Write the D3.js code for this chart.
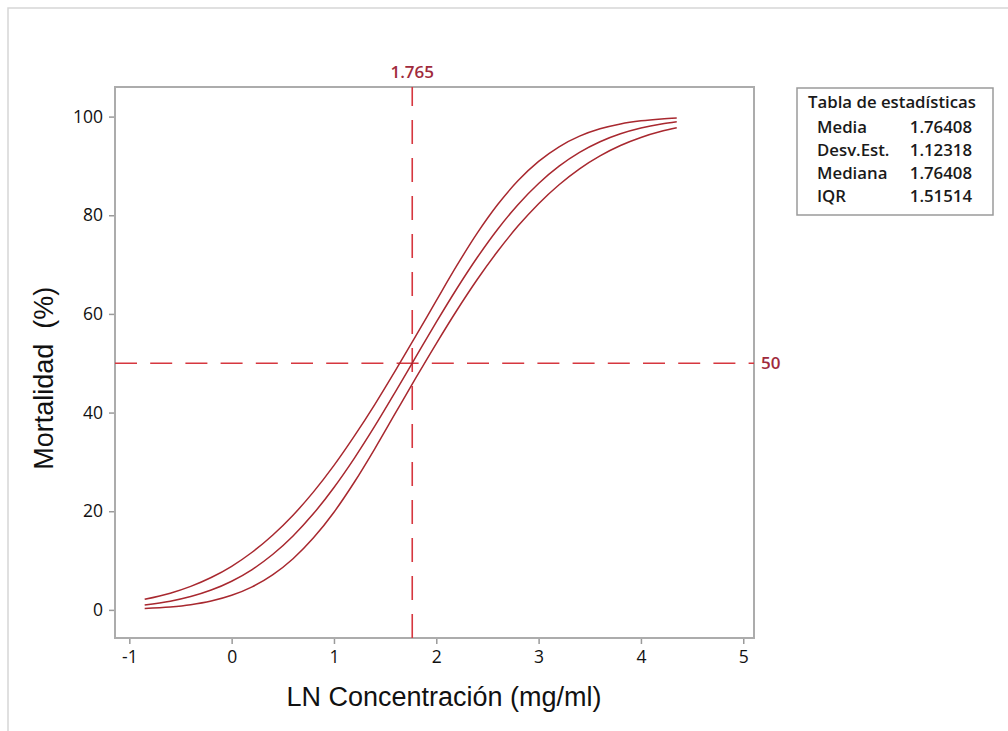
<!DOCTYPE html>
<html>
<head>
<meta charset="utf-8">
<script src="https://cdn.jsdelivr.net/npm/d3@7"></script>
<style>
    body { margin: 0; background: #fff; }
    .tick text { font-family: "Open Sans", sans-serif; font-size: 17.5px; font-weight: 500; fill: #111; }
    .tick line { stroke: #9a9a9a; stroke-width: 1.5; }
    .title { font-family: "Liberation Sans", Arial, sans-serif; font-size: 27px; fill: #111; }
    .stats { font-family: "Open Sans", sans-serif; font-size: 16.8px; font-weight: 600; fill: #1a1a1a; }
</style>
</head>
<body>
<div id="vis"></div>
<script>
// Probit plot: fitted mortality (%) with its confidence band

/* *************************** Data ***************************** */

var lnConc = [-0.85, -0.6, -0.4, -0.2, 0, 0.2, 0.4, 0.6, 0.8, 1.0, 1.2, 1.4, 1.6, 1.8,
    2.0, 2.2, 2.4, 2.6, 2.8, 3.0, 3.2, 3.4, 3.6, 3.8, 4.0, 4.2, 4.35];

// fitted percent
var fitPct = [1.0, 1.76, 2.7, 4.02, 5.81, 8.18, 11.22, 14.99, 19.52, 24.82, 30.78, 37.29, 44.2, 51.28,
    58.32, 65.1, 71.43, 77.17, 82.2, 86.45, 89.95, 92.74, 94.9, 96.51, 97.68, 98.5, 98.94];

// upper confidence limit
var upperPct = [2.15, 3.39, 4.77, 6.56, 8.84, 11.68, 15.13, 19.19, 23.92, 29.29, 35.27, 41.68, 48.5, 55.53,
    62.7, 69.78, 76.37, 82.17, 87.04, 90.92, 93.88, 96.03, 97.52, 98.52, 99.15, 99.53, 99.71];

// lower confidence limit
var lowerPct = [0.3, 0.6, 1.05, 1.79, 2.95, 4.66, 7.09, 10.37, 14.61, 19.8, 25.92, 32.71, 39.88, 47.02,
    53.99, 60.69, 66.97, 72.7, 77.85, 82.35, 86.19, 89.42, 92.04, 94.14, 95.77, 97.01, 97.73];

// reference lines
var refX = 1.765;
var refY = 50;

// ticks
var xTicks = [-1, 0, 1, 2, 3, 4, 5];
var yTicks = [0, 20, 40, 60, 80, 100];

// statistics table
var statNames = ['Media', 'Desv.Est.', 'Mediana', 'IQR'];
var statValues = ['1.76408', '1.12318', '1.76408', '1.51514'];

/* *************************** Settings ***************************** */

var width = 1008;
var height = 731;

var margin = {
    left: 115,
    top: 87,
    right: 254,
    bottom: 93
};

var drawWidth = width - margin.left - margin.right;
var drawHeight = height - margin.top - margin.bottom;

var curveColor = '#a8282f';
var refColor = '#d6373f';
var labelColor = '#a02a3c';

/* *************************** Static elements ***************************** */

var svg = d3.select('#vis')
    .append('svg')
    .attr('width', width)
    .attr('height', height);

// light outer frame
svg.append('rect')
    .attr('x', 8)
    .attr('y', 8)
    .attr('width', width + 20)
    .attr('height', height + 20)
    .attr('fill', 'none')
    .attr('stroke', '#d6d6d6')
    .attr('stroke-width', 1.5);

var g = svg.append('g')
    .attr('transform', 'translate(' + margin.left + ',' + margin.top + ')');

var xScale = d3.scaleLinear()
    .domain([-1.14, 5.105])
    .range([0, drawWidth]);

var yScale = d3.scaleLinear()
    .domain([-5.7, 106])
    .range([drawHeight, 0]);

/* *************************** Axes ***************************** */

var xAxis = d3.axisBottom(xScale)
    .tickValues(xTicks)
    .tickSize(6)
    .tickPadding(7)
    .tickFormat(function(d) { return String(d); });

var yAxis = d3.axisLeft(yScale)
    .tickValues(yTicks)
    .tickSize(6)
    .tickPadding(6);

g.append('g')
    .attr('class', 'axis')
    .attr('transform', 'translate(0,' + drawHeight + ')')
    .call(xAxis)
    .call(function(s) { s.select('.domain').remove(); });

g.append('g')
    .attr('class', 'axis')
    .call(yAxis)
    .call(function(s) { s.select('.domain').remove(); });

// plot frame
g.append('rect')
    .attr('width', drawWidth)
    .attr('height', drawHeight)
    .attr('fill', 'none')
    .attr('stroke', '#acacac')
    .attr('stroke-width', 2);

/* *************************** Reference lines ***************************** */

g.append('line')
    .attr('x1', xScale(refX))
    .attr('x2', xScale(refX))
    .attr('y1', drawHeight)
    .attr('y2', 0)
    .attr('stroke', refColor)
    .attr('stroke-width', 1.6)
    .attr('stroke-dasharray', '24,14');

g.append('line')
    .attr('x1', 0)
    .attr('x2', drawWidth)
    .attr('y1', yScale(refY))
    .attr('y2', yScale(refY))
    .attr('stroke', refColor)
    .attr('stroke-width', 1.6)
    .attr('stroke-dasharray', '22,13.2');

g.append('text')
    .attr('x', xScale(refX))
    .attr('y', -9)
    .attr('text-anchor', 'middle')
    .style('font-family', '"Open Sans", sans-serif')
    .style('font-size', '17px')
    .style('font-weight', 600)
    .attr('fill', labelColor)
    .text(refX);

g.append('text')
    .attr('x', drawWidth + 7)
    .attr('y', yScale(refY))
    .attr('dy', '0.35em')
    .style('font-family', '"Open Sans", sans-serif')
    .style('font-size', '17px')
    .style('font-weight', 600)
    .attr('fill', labelColor)
    .text(refY);

/* *************************** Curves ***************************** */

var line = d3.line()
    .x(function(d) { return xScale(d[0]); })
    .y(function(d) { return yScale(d[1]); })
    .curve(d3.curveMonotoneX);

[upperPct, fitPct, lowerPct].forEach(function(series) {
    g.append('path')
        .datum(lnConc.map(function(x, i) { return [x, series[i]]; }))
        .attr('d', line)
        .attr('fill', 'none')
        .attr('stroke', curveColor)
        .attr('stroke-width', 1.5);
});

/* *************************** Titles ***************************** */

svg.append('text')
    .attr('class', 'title')
    .attr('x', (287 + 601) / 2)
    .attr('y', 706)
    .attr('text-anchor', 'middle')
    .text('LN Concentración (mg/ml)');

svg.append('text')
    .attr('class', 'title')
    .attr('transform', 'translate(53,' + (margin.top + yScale(50) + 15) + ') rotate(-90)')
    .attr('text-anchor', 'middle')
    .attr('xml:space', 'preserve')
    .text('Mortalidad  (%)');

/* *************************** Stats table ***************************** */

var box = svg.append('g')
    .attr('transform', 'translate(797,88)');

box.append('rect')
    .attr('width', 196)
    .attr('height', 127)
    .attr('fill', '#fff')
    .attr('stroke', '#9a9a9a')
    .attr('stroke-width', 1.5);

box.append('text')
    .attr('class', 'stats')
    .attr('x', 11)
    .attr('y', 20)
    .text('Tabla de estadísticas');

statNames.forEach(function(name, i) {
    box.append('text')
        .attr('class', 'stats')
        .attr('x', 20)
        .attr('y', 45 + i * 23)
        .text(name);
    box.append('text')
        .attr('class', 'stats')
        .attr('x', 175)
        .attr('y', 45 + i * 23)
        .attr('text-anchor', 'end')
        .text(statValues[i]);
});
</script>
</body>
</html>
